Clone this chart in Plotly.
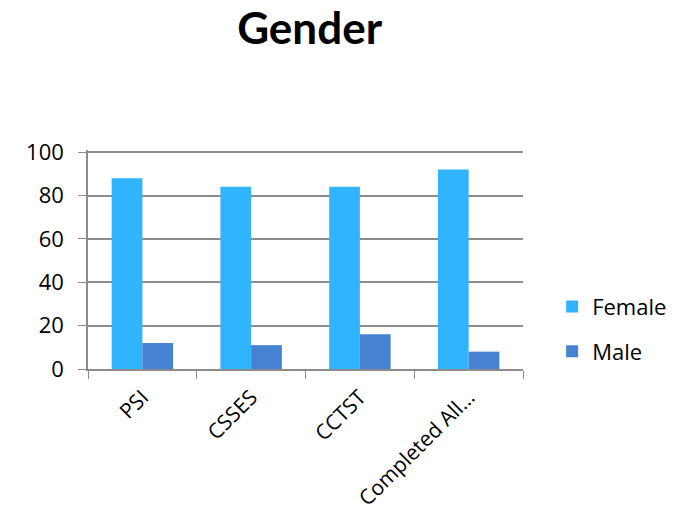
import plotly.graph_objects as go

categories = ["PSI", "CSSES", "CCTST", "Completed All…"]
female = [88, 84, 84, 92]
male = [12, 11, 16, 8]
y_ticks = [0, 20, 40, 60, 80, 100]

FONT = "Open Sans"
GRID = "#8c8c8c"

fig = go.Figure()
fig.add_trace(go.Bar(name="Female", x=categories, y=female,
                     marker=dict(color="#31B4FE", line=dict(width=0)),
                     legendgroup="f"))
fig.add_trace(go.Bar(name="Male", x=categories, y=male,
                     marker=dict(color="#4582D2", line=dict(width=0)),
                     legendgroup="m"))

fig.update_layout(
    width=685, height=516,
    margin=dict(l=88, r=162, t=150, b=147, autoexpand=False),
    paper_bgcolor="white", plot_bgcolor="white",
    barmode="group", bargap=0.435, bargroupgap=0,
    font=dict(family=FONT, color="black", size=22),
    title=dict(text="<b>Gender</b>", x=0.452, xanchor="center",
               y=0.945, yanchor="middle",
               font=dict(family="Lato", size=44, color="black")),
    legend=dict(x=1.067, y=0.38, xanchor="left", yanchor="top",
                font=dict(size=22), tracegroupgap=13,
                itemwidth=30, bgcolor="rgba(0,0,0,0)"),
    xaxis=dict(showline=True, linecolor=GRID, linewidth=1.5,
               ticks="outside", tickson="boundaries", ticklen=8,
               tickcolor=GRID, tickangle=-45, showgrid=False,
               tickfont=dict(size=21), ticklabelstandoff=6,
               automargin=False),
    yaxis=dict(range=[0, 101], tickvals=y_ticks, showline=True,
               linecolor=GRID, linewidth=1.5, ticks="outside", ticklen=8,
               tickcolor=GRID, showgrid=True, gridcolor=GRID, gridwidth=1.5,
               zeroline=False, tickfont=dict(size=22),
               ticklabelstandoff=10, automargin=False),
)

fig.write_html("out.html")
